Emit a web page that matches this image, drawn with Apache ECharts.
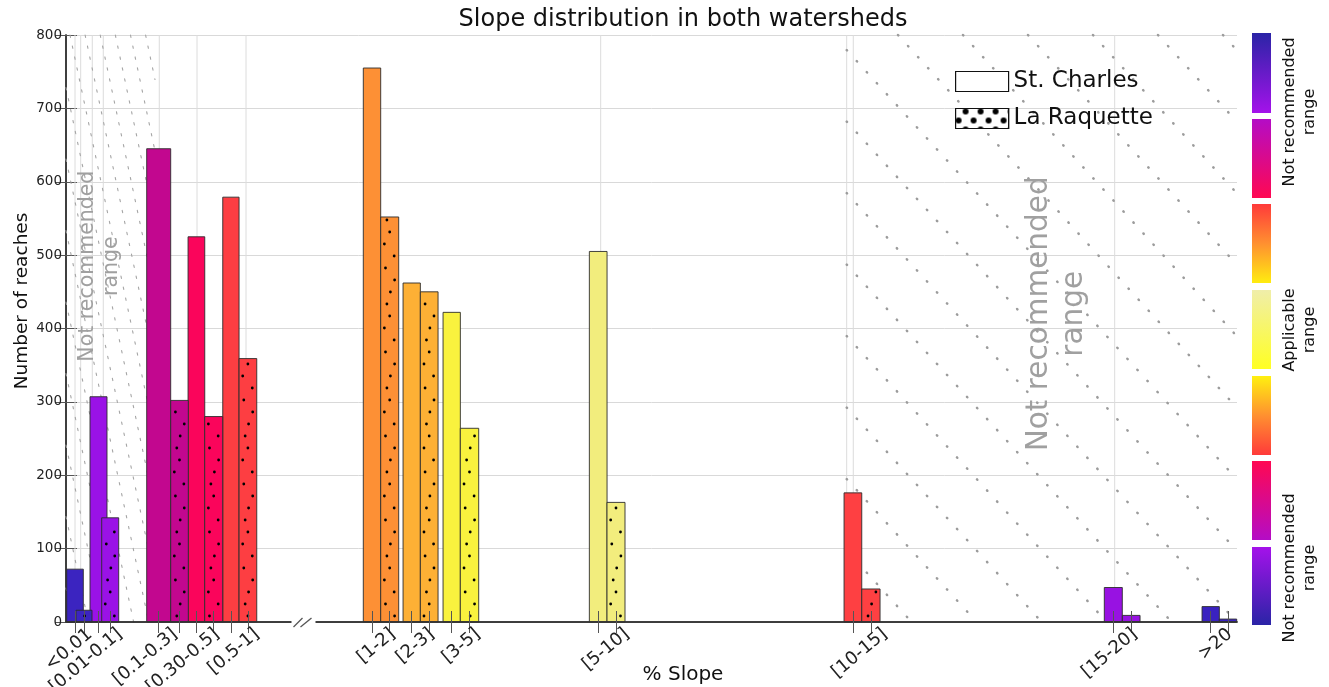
<!DOCTYPE html>
<html><head><meta charset="utf-8">
<script src="https://cdn.jsdelivr.net/npm/echarts@6.0.0/dist/echarts.min.js"></script>
<style>html,body{margin:0;padding:0;background:#fff}#c{width:1329px;height:687px}</style>
</head><body><div id="c"></div>
<script>
// ---------------- data ----------------
const categories = ['<0.01','[0.01-0.1]','[0.1-0.3]','[0.30-0.5]','[0.5-1]','[1-2]','[2-3]','[3-5]','[5-10]','[10-15]','[15-20]','>20'];
const stCharles  = [72, 307, 645, 525, 579, 755, 462, 422, 505, 176, 47, 21];
const laRaquette = [16, 142, 302, 280, 359, 552, 450, 264, 163, 45, 9, 4];
const seriesNames = ['St. Charles', 'La Raquette'];
const barColors = ['#3b24c0','#9a12e6','#c2078f','#fa055b','#fd3e42','#fd9035','#fdb035','#f9f23e','#f2ed7d','#fe4042','#9812e2','#3a22c0'];
const colorbarLabels = ['Not recommended\nrange', 'Applicable\nrange', 'Not recommended\nrange'];
const rangeNote = 'Not recommended\nrange';

// ---------------- layout (x axis units, 0 = left edge of plot) ----------------
const X_MAX = 1171;
const scCenter = [9, 32.5, 92.7, 130.4, 164.9, 306, 345.7, 385.7, 532.2, 786.9, 1047.3, 1144.7];
const scWidth  = [16.6, 17, 24, 16.7, 16.3, 17.4, 17.3, 17.3, 17.7, 17.7, 18, 17.3];
const lrCenter = [18, 44.2, 113.5, 147.7, 181.9, 323.7, 363.2, 403.5, 550, 804.9, 1065.2, 1162];
const lrWidth  = [16, 17, 17.6, 18, 17.7, 18, 17.7, 18.4, 18, 18.3, 17.7, 17.4];
const labelPos = [24, 54, 109, 151, 191, 327, 366, 412, 561, 819, 1069, 1164];
const gridX    = [9, 14.7, 26.3, 37.3, 93.3, 131, 180, 534.7, 780.7, 787.3, 1048.7];
const breakAt  = 237.5;
const hatchZones = [
  {from: 0, to: 89, squeeze: 4.3, phase: 70, dash: [2.4, 8.8], lw: 1.1, color: '#a5a5a5'},
  {from: 780.7, to: X_MAX, squeeze: 1, phase: 833, dash: [0.5, 14.4], lw: 2.5, color: '#9c9c9c'}
];
const notes = [
  {x: 34, y: 485, size: 20.5, lh: 24},
  {x: 991, y: 420, size: 29.5, lh: 35}
];
const FONT = 'DejaVu Sans';

const tickPos = scCenter.concat(lrCenter).sort((a,b)=>a-b);

function barRender(centers, widths, dotted) {
  return function (params, api) {
    const i = api.value(2);
    const c = api.value(0), v = api.value(1), w = widths[i];
    const p1 = api.coord([c - w / 2, v]);
    const p2 = api.coord([c + w / 2, 0]);
    const x = p1[0], y = p1[1], width = p2[0] - p1[0], height = p2[1] - p1[1];
    const children = [{
      type: 'rect', shape: {x, y, width, height},
      style: {fill: barColors[i], stroke: 'rgba(45,45,45,0.9)', lineWidth: 1}
    }];
    if (dotted) {
      const fr = [0.55, 0.85, 0.2, 0.82, 0.12, 0.5, 0.3];
      let r = 0;
      for (let yy = p2[1] - 6; yy > y + 3; yy -= 12, r++) {
        const f = fr[(r + i * 3) % fr.length];
        children.push({type: 'circle', shape: {cx: x + 2 + f * (width - 4), cy: yy, r: 1.4}, style: {fill: '#000'}});
      }
    }
    return {type: 'group', children};
  };
}

function hatchRender(params, api) {
  const z = hatchZones[params.dataIndex];
  const cs = params.coordSys;
  const xL = api.coord([z.from, 0])[0], xR = api.coord([z.to, 0])[0];
  const yT = cs.y, yB = cs.y + cs.height, H = yB - yT;
  const slope = 1.1 * z.squeeze, sp = 65 / z.squeeze;
  const children = [];
  let x0 = z.phase - Math.ceil((z.phase - (xL - H / slope)) / sp) * sp;
  for (; x0 < xR; x0 += sp) {
    const y1 = Math.max(yT, yT + (xL - x0) * slope);
    const y2 = Math.min(yB, yT + (xR - x0) * slope);
    if (y2 - y1 < 1) continue;
    children.push({type: 'line',
      shape: {x1: x0 + (y1 - yT) / slope, y1, x2: x0 + (y2 - yT) / slope, y2},
      style: {stroke: z.color, lineWidth: z.lw, lineDash: z.dash, lineCap: 'round'}});
  }
  return {type: 'group', children, silent: true};
}

function gridRender(params, api) {
  const cs = params.coordSys;
  const px = api.coord([api.value(0), 0])[0];
  return {type: 'line', shape: {x1: px, y1: cs.y, x2: px, y2: cs.y + cs.height},
    style: {stroke: '#dcdcdc', lineWidth: 1}, silent: true};
}

function noteRender(params, api) {
  const n = notes[params.dataIndex];
  const p = api.coord([n.x, n.y]);
  return {type: 'text', x: p[0], y: p[1], rotation: Math.PI / 2,
    style: {text: rangeNote, fontSize: n.size, fontFamily: FONT, fill: '#a0a0a0',
      align: 'center', verticalAlign: 'middle', lineHeight: n.lh}, silent: true};
}

function breakRender(params, api) {
  const p = api.coord([api.value(0), 0]);
  return {type: 'group', children: [
    {type: 'rect', shape: {x: p[0] - 12, y: p[1] - 3, width: 24, height: 6}, style: {fill: '#fff'}},
    {type: 'line', shape: {x1: p[0] - 10, y1: p[1] + 5, x2: p[0] - 1, y2: p[1] - 4}, style: {stroke: '#555', lineWidth: 1.3}},
    {type: 'line', shape: {x1: p[0] - 3, y1: p[1] + 5, x2: p[0] + 8, y2: p[1] - 4}, style: {stroke: '#555', lineWidth: 1.3}}
  ], silent: true};
}

// colorbar
const cbSegs = [
  {y0: 33, y1: 113, c: ['#2a24a6', '#a412ea']},
  {y0: 119, y1: 198, c: ['#b40cc6', '#ff0852']},
  {y0: 204, y1: 283, c: ['#ff3a3a', '#ff9030', '#ffec10']},
  {y0: 290, y1: 369, c: ['#f0eeaa', '#ffff22']},
  {y0: 376, y1: 455, c: ['#fff010', '#ff9030', '#ff3a3a']},
  {y0: 461, y1: 540, c: ['#ff0852', '#b40cc6']},
  {y0: 547, y1: 625, c: ['#a412ea', '#2a24a6']}
];
const graphics = [];
cbSegs.forEach(s => {
  graphics.push({type: 'rect', shape: {x: 1252, y: s.y0, width: 19, height: s.y1 - s.y0},
    style: {fill: new echarts.graphic.LinearGradient(0, 0, 0, 1,
      s.c.map((col, k) => ({offset: k / (s.c.length - 1), color: col})))}});
});
[112, 330, 568].forEach((yc, k) => {
  graphics.push({type: 'text', x: 1300, y: yc, rotation: Math.PI / 2,
    style: {text: colorbarLabels[k], fontSize: 16, fontFamily: FONT, fill: '#111', align: 'center', verticalAlign: 'middle', lineHeight: 20}});
});
graphics.push({type: 'text', x: 683, y: 20, style: {text: 'Slope distribution in both watersheds', fontSize: 24, fontFamily: FONT, fill: '#111', align: 'center', verticalAlign: 'middle'}});
graphics.push({type: 'text', x: 22, y: 301, rotation: Math.PI / 2, style: {text: 'Number of reaches', fontSize: 18.5, fontFamily: FONT, fill: '#111', align: 'center', verticalAlign: 'middle'}});
graphics.push({type: 'text', x: 683, y: 675, style: {text: '% Slope', fontSize: 20, fontFamily: FONT, fill: '#111', align: 'center', verticalAlign: 'middle'}});

const chart = echarts.init(document.getElementById('c'), null, {renderer: 'canvas'});
chart.setOption({
  animation: false,
  backgroundColor: '#fff',
  grid: {left: 66, right: 92, top: 35, bottom: 65, containLabel: false, outerBoundsMode: 'none'},
  xAxis: [{
    type: 'value', min: 0, max: X_MAX, position: 'bottom', z: 3,
    axisLine: {show: true, lineStyle: {color: '#333', width: 1.5}},
    axisTick: {show: true, inside: true, length: 11, customValues: tickPos, lineStyle: {color: '#555'}},
    axisLabel: {show: true, customValues: labelPos, rotate: 40, margin: 10, fontSize: 18, fontFamily: FONT, color: '#222',
      showMinLabel: true, showMaxLabel: true, hideOverlap: false,
      formatter: v => categories[labelPos.indexOf(v)] || ''},
    splitLine: {show: false}
  }, {
    type: 'value', min: 0, max: X_MAX, position: 'top', z: 3,
    axisLine: {show: true, lineStyle: {color: '#333', width: 1.5}},
    axisTick: {show: true, inside: true, length: 11, customValues: tickPos, lineStyle: {color: '#555'}},
    axisLabel: {show: false}, splitLine: {show: false}
  }],
  yAxis: [{
    type: 'value', min: 0, max: 800, interval: 100, position: 'left',
    axisLine: {show: true, lineStyle: {color: '#333', width: 1.5}},
    axisTick: {show: true, inside: true, length: 11, lineStyle: {color: '#555'}},
    axisLabel: {fontSize: 13.5, fontFamily: FONT, color: '#222', margin: 4},
    splitLine: {show: true, lineStyle: {color: '#d9d9d9', width: 1}}
  }, {
    type: 'value', min: 0, max: 800, interval: 100, position: 'right',
    axisLine: {show: true, lineStyle: {color: '#333', width: 1.5}},
    axisTick: {show: true, inside: true, length: 11, lineStyle: {color: '#555'}},
    axisLabel: {show: false}, splitLine: {show: false}
  }],
  legend: {
    left: 955, top: 70, orient: 'vertical', padding: 0, itemGap: 14, itemWidth: 53, itemHeight: 20, icon: 'rect',
    textStyle: {fontSize: 23, fontFamily: FONT, color: '#111'},
    data: [
      {name: seriesNames[0], itemStyle: {color: '#fff', borderColor: '#111', borderWidth: 1.2}},
      {name: seriesNames[1], itemStyle: {color: '#fff', borderColor: '#111', borderWidth: 1.2,
        decal: {symbol: 'circle', symbolSize: 1, color: '#000', backgroundColor: '#fff',
          dashArrayX: [[6, 9], [0, 7, 6, 2]], dashArrayY: [6, 3]}}}
    ]
  },
  graphic: graphics,
  series: [
    {type: 'custom', name: 'grid-x', z: 1, silent: true, renderItem: gridRender, data: gridX.map(v => [v, 0]), encode: {x: 0, y: 1}},
    {type: 'custom', name: 'hatch', z: 1, silent: true, renderItem: hatchRender, data: hatchZones.map(h => [h.from, 0]), encode: {x: 0, y: 1}},
    {type: 'custom', name: 'notes', z: 1, silent: true, renderItem: noteRender, data: notes.map(n => [n.x, n.y]), encode: {x: 0, y: 1}},
    {type: 'custom', name: seriesNames[0], z: 2, renderItem: barRender(scCenter, scWidth, false),
      data: stCharles.map((v, i) => [scCenter[i], v, i]), encode: {x: 0, y: 1}},
    {type: 'custom', name: seriesNames[1], z: 2, renderItem: barRender(lrCenter, lrWidth, true),
      data: laRaquette.map((v, i) => [lrCenter[i], v, i]), encode: {x: 0, y: 1}},
    {type: 'custom', name: 'break', z: 5, silent: true, renderItem: breakRender, data: [[breakAt, 0]], encode: {x: 0, y: 1}}
  ]
});
</script></body></html>
